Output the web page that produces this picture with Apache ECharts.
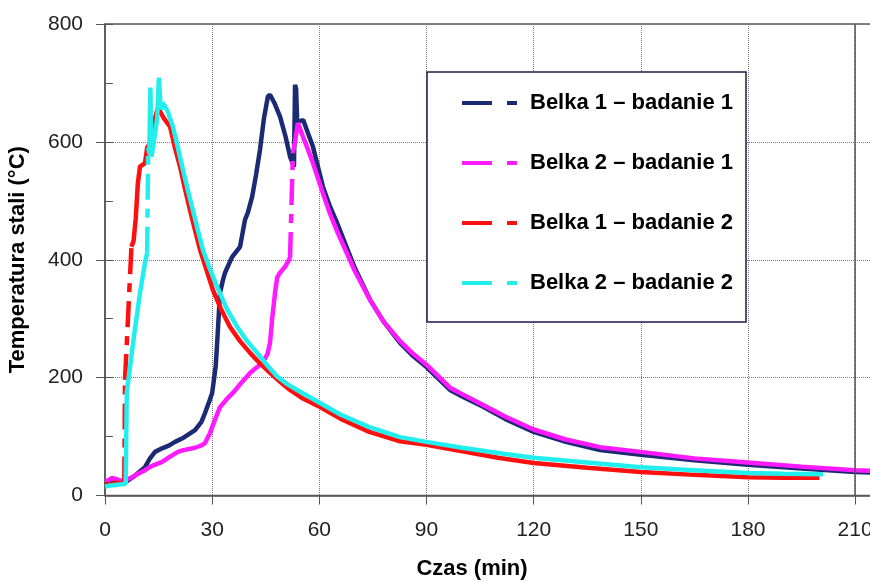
<!DOCTYPE html>
<html>
<head>
<meta charset="utf-8">
<title>Temperatura stali</title>
<script src="https://cdn.jsdelivr.net/npm/echarts@6.0.0/dist/echarts.min.js"></script>
<style>
	html, body { margin: 0; padding: 0; background: #fff; }
	#chart { width: 870px; height: 583px; }
</style>
</head>
<body>
<div id="chart"></div>
<script>
// serie: [czas (min), temperatura (°C)]
var belka1Badanie1 = [
	[0, 18], [2, 22], [4, 20], [5.5, 22], [6, 23], [8, 32], [10, 42], [11.2, 48], [12.5, 62], [14, 74],
	[16, 80], [18, 85], [19.6, 91], [22, 98], [25.2, 111], [27, 125], [28, 140], [29.2, 160], [30, 174],
	[31, 220], [31.4, 259], [32.2, 344], [33, 365], [33.6, 378], [35.6, 405], [37.8, 422], [39.2, 468],
	[40, 480], [41.2, 507], [42.3, 545], [43.4, 587], [44.5, 640], [45.6, 677], [46.2, 680], [47.5, 665],
	[49, 643], [50.5, 610], [51.8, 575], [52.9, 558], [53.2, 697], [53.5, 690], [53.8, 634], [55.5, 637],
	[56.8, 615], [58.2, 592], [61, 524], [63, 490], [65, 462], [70, 385], [74.2, 332], [78, 295],
	[82.6, 259], [86, 238], [90, 218], [96.6, 179], [100, 168], [106, 150], [112, 130], [120, 108],
	[129, 91], [138.6, 77], [150, 69], [165, 60], [180, 52], [195, 46], [210, 40], [215, 39]
];
var belka2Badanie1 = [
	[0, 24], [1, 26], [2, 30], [3, 28], [4, 26], [5.5, 25], [6.5, 28], [7.6, 31], [9, 36], [11.2, 43],
	[13, 50], [16, 57], [18, 65], [20.4, 74], [22, 77], [25.2, 81], [27, 85], [28, 89], [29.4, 106],
	[30, 116], [31, 132], [32.2, 150], [34, 163], [35.8, 174], [38, 190], [40.6, 208], [42, 215],
	[44, 225], [45.5, 240], [46.2, 259], [46.8, 300], [47.6, 344], [48.2, 370], [49, 378], [50.4, 388],
	[51.8, 403], [52.6, 581], [53.2, 600], [54, 632], [55.4, 609], [56.5, 592], [58.2, 564], [61, 513],
	[63, 478], [65, 448], [70, 380], [74.2, 332], [78, 295], [82.6, 262], [86, 242], [90, 222],
	[96.6, 183], [100, 172], [106, 153], [112, 134], [120, 112], [129, 95], [138.6, 82], [150, 74],
	[165, 63], [180, 56], [195, 49], [210, 43], [215, 42]
];
var belka1Badanie2 = [
	[0, 20], [1.5, 18], [3, 22], [4.5, 20], [5.4, 22], [5.6, 196], [7.4, 422], [8, 432], [8.6, 470],
	[9.2, 530], [9.8, 558], [11.2, 564], [11.8, 590], [12.6, 598], [13.4, 626], [14.8, 658], [16.5, 640],
	[18.2, 626], [19.5, 592], [21, 558], [22.4, 520], [23.8, 484], [25.2, 450], [26.6, 417], [28.4, 383],
	[30.2, 349], [32.5, 316], [35, 286], [37.8, 262], [40.6, 242], [43.4, 224], [46.2, 208], [49, 193],
	[51.8, 179], [55, 166], [60.2, 150], [66, 130], [74, 108], [82.6, 92], [90, 86], [100, 75],
	[110, 64], [120, 55], [135, 47], [150, 40], [165, 35], [180, 31], [190, 30], [200, 30]
];
var belka2Badanie2 = [
	[0, 15], [1.5, 17], [3, 18], [4.5, 19], [5.8, 20], [6.1, 175], [8, 265], [9.8, 344], [11.2, 395],
	[11.8, 412], [12.1, 590], [12.4, 580], [12.7, 692], [13, 575], [13.8, 605], [14.6, 640], [15.1, 709],
	[15.6, 655], [16.2, 666], [17.4, 654], [19, 626], [20.4, 590], [21.8, 553], [23.2, 518], [24.6, 484],
	[26, 450], [27.4, 417], [29.4, 384], [31.4, 354], [34, 318], [37, 286], [39.8, 262], [42.6, 242],
	[45.4, 221], [48.2, 202], [51, 189], [53.8, 179], [57, 168], [60.2, 157], [66, 137], [74, 116],
	[82.6, 99], [90, 91], [100, 81], [110, 72], [120, 64], [135, 56], [150, 48], [165, 43], [180, 38],
	[190, 37], [201, 36]
];

var seriesNames = ["Belka 1 – badanie 1", "Belka 2 – badanie 1", "Belka 1 – badanie 2", "Belka 2 – badanie 2"];
var seriesData = [belka1Badanie1, belka2Badanie1, belka1Badanie2, belka2Badanie2];
var seriesColors = ["#1b2a72", "#ff1aff", "#ff1010", "#22eeee"];
var xTicks = [0, 30, 60, 90, 120, 150, 180, 210];
var yTicks = [0, 200, 400, 600, 800];

var FONT = "Liberation Sans, Arial, sans-serif";
var JUMP = 160; // skoki temperatury rysowane linią przerywaną

// dzieli serię na część ciągłą i odcinki skoków
function splitJumps(data) {
	var solid = [], dashed = [];
	for (var i = 0; i < data.length; i++) {
		solid.push(data[i]);
		if (i < data.length - 1 && Math.abs(data[i + 1][1] - data[i][1]) > JUMP) {
			solid.push(["-", "-"]);
			if (dashed.length) dashed.push(["-", "-"]);
			dashed.push(data[i], data[i + 1]);
		}
	}
	return { solid: solid, dashed: dashed };
}

var series = [];
for (var i = 0; i < seriesData.length; i++) {
	var parts = splitJumps(seriesData[i]);
	series.push({
		name: seriesNames[i],
		type: "line",
		data: parts.solid,
		showSymbol: false,
		symbol: "none",
		connectNulls: false,
		itemStyle: { color: seriesColors[i] },
		lineStyle: { color: seriesColors[i], width: 4.5 },
		z: 2 + i
	});
	if (parts.dashed.length) {
		series.push({
			name: seriesNames[i] + " ",
			type: "line",
			data: parts.dashed,
			showSymbol: false,
			symbol: "none",
			connectNulls: false,
			lineStyle: { color: seriesColors[i], width: 4.5, type: [26, 9, 9, 9] },
			z: 2 + i
		});
	}
}
// pionowa linia przy 210 min
series[0].markLine = {
	silent: true,
	symbol: "none",
	label: { show: false },
	lineStyle: { color: "#555", width: 1.5, type: "solid" },
	data: [{ xAxis: xTicks[xTicks.length - 1] }]
};

var myChart = echarts.init(document.getElementById("chart"));
var option = {
	animation: false,
	backgroundColor: "#fff",
	grid: {
		left: 105, right: -3, top: 24, bottom: 87.5,
		outerBoundsMode: "none",
		containLabel: false,
		show: true, borderColor: "#555", borderWidth: 1.5, backgroundColor: "transparent"
	},
	legend: {
		data: seriesNames,
		orient: "vertical",
		left: 427, top: 72,
		padding: [18, 13, 26, 35],
		itemGap: 34,
		itemWidth: 55, itemHeight: 4,
		icon: "path://M0,0H30V4H0ZM45,0H55V4H45Z",
		backgroundColor: "#fff",
		borderColor: "#1a1a50",
		borderWidth: 1.5,
		textStyle: {
			fontFamily: FONT,
			fontWeight: "bold", fontSize: 22, lineHeight: 26, color: "#000",
			padding: [0, 0, 0, 8]
		}
	},
	xAxis: {
		type: "value",
		min: 0, max: 215, interval: 30,
		name: "Czas (min)",
		nameLocation: "middle",
		nameGap: 62,
		nameTextStyle: { fontFamily: FONT, fontSize: 22, fontWeight: "bold", color: "#000", padding: [0, 34, 0, 0] },
		axisLine: { lineStyle: { color: "#555", width: 1.5 } },
		axisTick: { show: true, length: 9, lineStyle: { color: "#555" } },
		axisLabel: {
			fontFamily: FONT, fontSize: 21, color: "#222", margin: 24,
			formatter: function (v) { return xTicks.indexOf(v) >= 0 ? String(v) : ""; }
		},
		splitLine: { show: true, lineStyle: { color: "#777", type: "dotted", width: 1 } }
	},
	yAxis: [{
		type: "value",
		min: yTicks[0], max: yTicks[yTicks.length - 1], interval: 200,
		name: "Temperatura stali (°C)",
		nameLocation: "middle",
		nameGap: 76,
		nameTextStyle: { fontFamily: FONT, fontSize: 22, fontWeight: "bold", color: "#000" },
		axisLine: { show: true, lineStyle: { color: "#555", width: 1.5 } },
		axisTick: { show: true, length: 9, lineStyle: { color: "#555" } },
		axisLabel: { fontFamily: FONT, fontSize: 21, color: "#222", margin: 22 },
		splitLine: { show: true, lineStyle: { color: "#777", type: "dotted", width: 1 } }
	}, {
		// drobne kreski wewnątrz osi co 100
		type: "value",
		min: 0, max: 800, interval: 100,
		position: "left",
		axisLine: { show: false },
		axisTick: { show: true, inside: true, length: 8, lineStyle: { color: "#555" } },
		axisLabel: { show: false },
		splitLine: { show: false }
	}],
	series: series
};
myChart.setOption(option);
</script>
</body>
</html>
